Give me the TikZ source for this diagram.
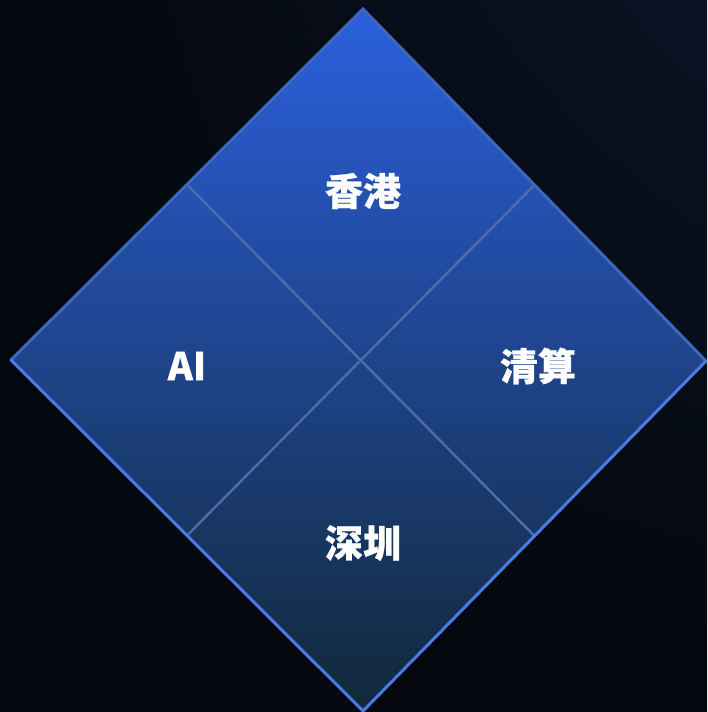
\documentclass[tikz,border=0pt]{standalone}
\usepackage{fontspec}
\newfontfamily\cjk{Noto Sans CJK SC}[BoldFeatures={FakeBold=0.6}]
\usetikzlibrary{positioning,calc,shadings}
\definecolor{bgDark}{RGB}{4,7,13}
\definecolor{bgGlow}{RGB}{10,19,36}
\definecolor{topBlue}{RGB}{43,96,222}
\definecolor{midBlue}{RGB}{31,69,151}
\definecolor{botTeal}{RGB}{17,40,56}
\definecolor{rimDim}{RGB}{64,102,186}
\definecolor{rimBright}{RGB}{74,122,230}
\definecolor{splitLine}{RGB}{78,108,170}

\begin{document}
\begin{tikzpicture}[
  x=1pt,y=-1pt,
  lbl/.style={text=white,font=\cjk\bfseries\fontsize{38}{38}\selectfont,
              inner sep=0pt,anchor=center},
  rim/.style={line width=3pt,line cap=round,line join=miter},
  split/.style={draw=splitLine,line width=2.4pt}
]

% ==========  Background  ==========
\useasboundingbox (0,0) rectangle (707,712);
\shade[upper left=bgDark,upper right=bgGlow,lower left=bgDark,lower right=bgDark]
  (0,0) rectangle (707,712);

% ==========  Diamond corners  ==========
\coordinate (top)   at (363,9);
\coordinate (left)  at (11,360);
\coordinate (right) at (706,361);
\coordinate (bot)   at (363,711);

% ==========  Diamond body  ==========
\shade[top color=topBlue,middle color=midBlue,bottom color=botTeal]
  (top) -- (right) -- (bot) -- (left) -- cycle;

% split lines between the four quarters
\draw[split] ($(top)!0.5!(left)$)  -- ($(right)!0.5!(bot)$);
\draw[split] ($(top)!0.5!(right)$) -- ($(left)!0.5!(bot)$);

% rim: dim on the upper edges, bright on the lower ones
\draw[rim,draw=rimDim]    (left) -- (top) -- (right);
\draw[rim,draw=rimBright] (left) -- (bot) -- (right);

% ==========  Labels  ==========
\node[lbl] (hk) at (363,191) {香港};
\node[lbl] (ai) at (187,366) {AI};
\node[lbl] (qs) at (538,366) {清算};
\node[lbl] (sz) at (363,543) {深圳};

\end{tikzpicture}
\end{document}
